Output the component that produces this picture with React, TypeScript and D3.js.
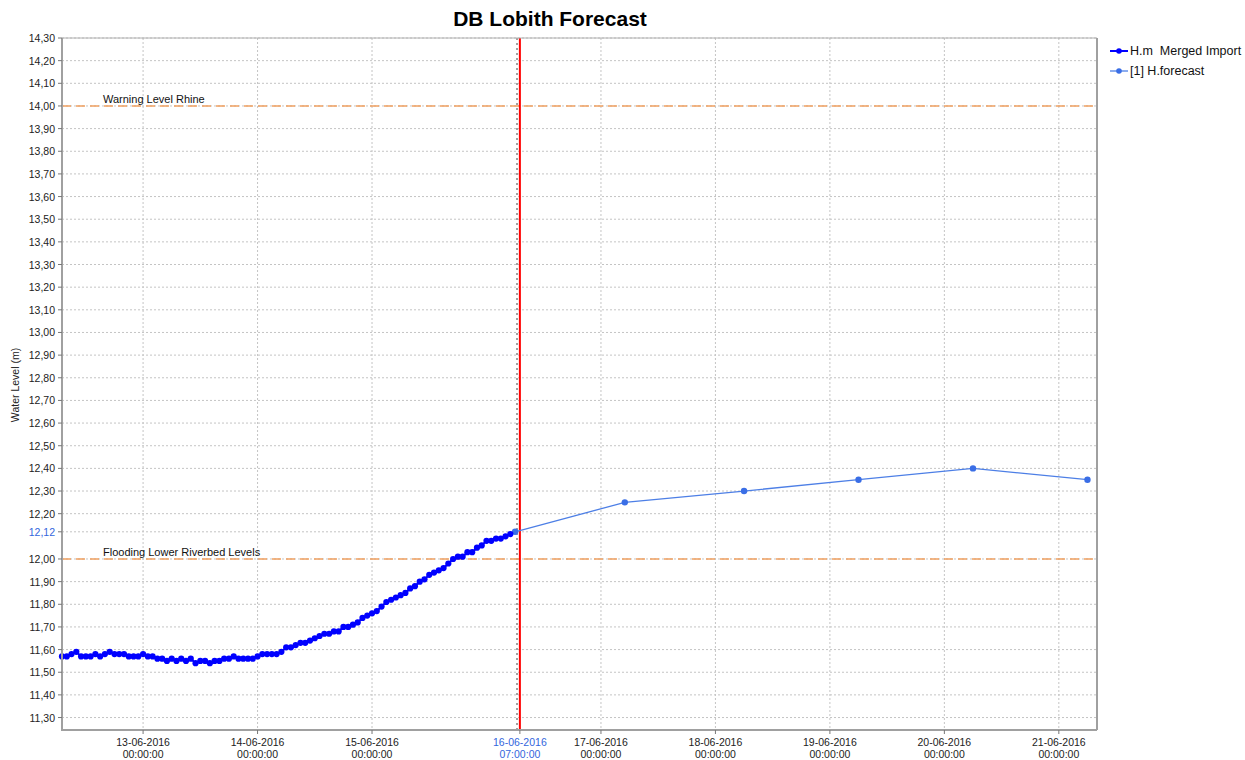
import * as d3 from 'd3'

// hourly observations, 12-06-2016 07:00 .. 16-06-2016 05:00
const obsStart = Date.UTC(2016, 5, 12, 7)
const observed = [
  11.57, 11.57, 11.58, 11.59, 11.57, 11.57, 11.57, 11.58, 11.57, 11.58,
  11.59, 11.58, 11.58, 11.58, 11.57, 11.57, 11.57, 11.58, 11.57, 11.57,
  11.56, 11.56, 11.55, 11.56, 11.55, 11.56, 11.55, 11.56, 11.54, 11.55,
  11.55, 11.54, 11.55, 11.55, 11.56, 11.56, 11.57, 11.56, 11.56, 11.56,
  11.56, 11.57, 11.58, 11.58, 11.58, 11.58, 11.59, 11.61, 11.61, 11.62,
  11.63, 11.63, 11.64, 11.65, 11.66, 11.67, 11.67, 11.68, 11.68, 11.70,
  11.70, 11.71, 11.72, 11.74, 11.75, 11.76, 11.77, 11.79, 11.81, 11.82,
  11.83, 11.84, 11.85, 11.87, 11.88, 11.90, 11.91, 11.93, 11.94, 11.95,
  11.96, 11.98, 12.00, 12.01, 12.01, 12.03, 12.03, 12.05, 12.06, 12.08,
  12.08, 12.09, 12.09, 12.10, 12.11,
]

const forecastTimes = [
  Date.UTC(2016, 5, 16, 6), Date.UTC(2016, 5, 17, 5), Date.UTC(2016, 5, 18, 6),
  Date.UTC(2016, 5, 19, 6), Date.UTC(2016, 5, 20, 6), Date.UTC(2016, 5, 21, 6),
]
const forecastValues = [12.12, 12.25, 12.30, 12.35, 12.40, 12.35]

const t0 = Date.UTC(2016, 5, 16, 7)
const dayTicks = [13, 14, 15, 17, 18, 19, 20, 21].map(d => Date.UTC(2016, 5, d))
const yTicks = [
  11.3, 11.4, 11.5, 11.6, 11.7, 11.8, 11.9, 12.0, 12.12, 12.2, 12.3, 12.4, 12.5,
  12.6, 12.7, 12.8, 12.9, 13.0, 13.1, 13.2, 13.3, 13.4, 13.5, 13.6, 13.7, 13.8,
  13.9, 14.0, 14.1, 14.2, 14.3,
]
const thresholds = [
  { value: 14.0, label: 'Warning Level Rhine' },
  { value: 12.0, label: 'Flooding Lower Riverbed Levels' },
]

const W = 1245
const H = 760
const plot = { left: 62, right: 1097, top: 38, bottom: 730 }
const font = '"Liberation Sans", Arial, sans-serif'

export default function App() {
  const x = d3.scaleUtc()
    .domain([new Date(Date.UTC(2016, 5, 12, 7)), new Date(Date.UTC(2016, 5, 21, 8))])
    .range([plot.left, plot.right])
  const y = d3.scaleLinear().domain([11.245, 14.3]).range([plot.bottom, plot.top])

  const obs = observed.map((v, i) => ({ t: obsStart + i * 3600000, v }))
  const fc = forecastValues.map((v, i) => ({ t: forecastTimes[i], v }))

  const line = d3.line<{ t: number; v: number }>()
    .x(d => x(new Date(d.t)))
    .y(d => y(d.v))

  const fmtDate = d3.utcFormat('%d-%m-%Y')
  const fmtTime = d3.utcFormat('%H:%M:%S')
  const fmtY = (v: number) => v.toFixed(2).replace('.', ',')

  const xT0 = x(new Date(t0))

  return (
    <svg width={W} height={H} style={{ position: 'absolute', left: 0, top: 0, background: '#fff' }}
      fontFamily={font}>
      <rect x={0} y={0} width={W} height={H} fill="#fff" />
      <text x={550} y={26} textAnchor="middle" fontSize={21} fontWeight="bold" fill="#000">
        DB Lobith Forecast
      </text>

      {/* grid */}
      {yTicks.map(v => (
        <line key={'gy' + v} x1={plot.left} x2={plot.right} y1={y(v)} y2={y(v)}
          stroke="#c4c4c4" strokeDasharray="2,2" />
      ))}
      {dayTicks.map(t => (
        <line key={'gx' + t} x1={x(new Date(t))} x2={x(new Date(t))} y1={plot.top} y2={plot.bottom}
          stroke="#c4c4c4" strokeDasharray="2,2" />
      ))}
      <line x1={Math.round(xT0) - 3} x2={Math.round(xT0) - 3} y1={plot.top} y2={plot.bottom}
        stroke="#444" strokeDasharray="2,3" />

      {/* thresholds */}
      {thresholds.map(th => (
        <g key={th.label}>
          <line x1={plot.left} x2={plot.right} y1={y(th.value)} y2={y(th.value)}
            stroke="#f0a060" strokeWidth={1.5} strokeDasharray="9,5" />
          <text x={103} y={y(th.value) - 3} fontSize={11} fill="#111">{th.label}</text>
        </g>
      ))}

      {/* current time */}
      <line x1={xT0} x2={xT0} y1={plot.top} y2={plot.bottom} stroke="#ff0000" strokeWidth={2} />

      {/* forecast */}
      <path d={line(fc) ?? ''} fill="none" stroke="#4d7fe6" strokeWidth={1.3} />
      {fc.map(d => (
        <circle key={'f' + d.t} cx={x(new Date(d.t))} cy={y(d.v)} r={3.2} fill="#3a6ee6" />
      ))}

      {/* observed */}
      <path d={line(obs) ?? ''} fill="none" stroke="#0000ff" strokeWidth={2} />
      {obs.map(d => (
        <circle key={'o' + d.t} cx={x(new Date(d.t))} cy={y(d.v)} r={3.1} fill="#0000ff" />
      ))}

      {/* frame */}
      <line x1={plot.left} x2={plot.right} y1={plot.top} y2={plot.top} stroke="#b0b0b0" />
      <line x1={plot.right} x2={plot.right} y1={plot.top} y2={plot.bottom} stroke="#a0a0a0" strokeWidth={2} />
      <line x1={plot.left} x2={plot.left} y1={plot.top} y2={plot.bottom + 1} stroke="#a0a0a0" strokeWidth={2} />
      <line x1={plot.left} x2={plot.right} y1={plot.bottom} y2={plot.bottom} stroke="#a0a0a0" strokeWidth={2} />

      {/* y axis */}
      {yTicks.map(v => (
        <g key={'ty' + v}>
          <line x1={plot.left - 4} x2={plot.left} y1={y(v)} y2={y(v)} stroke="#777" />
          <text x={55} y={y(v) + 4} textAnchor="end" fontSize={10.5}
            fill={v === 12.12 ? '#3366dd' : '#222'}>{fmtY(v)}</text>
        </g>
      ))}
      <text transform={`translate(19,${385}) rotate(-90)`} textAnchor="middle" fontSize={10.5} fill="#222">
        Water Level (m)
      </text>

      {/* x axis */}
      {[...dayTicks, t0].map(t => {
        const xx = x(new Date(t))
        const c = t === t0 ? '#3366dd' : '#222'
        return (
          <g key={'tx' + t}>
            <line x1={xx} x2={xx} y1={plot.bottom} y2={plot.bottom + 4} stroke="#777" />
            <text x={xx} y={746} textAnchor="middle" fontSize={10.5} fill={c}>{fmtDate(new Date(t))}</text>
            <text x={xx} y={758} textAnchor="middle" fontSize={10.5} fill={c}>{fmtTime(new Date(t))}</text>
          </g>
        )
      })}

      {/* legend */}
      <g>
        <line x1={1110} x2={1128} y1={51} y2={51} stroke="#0000ff" strokeWidth={2} />
        <circle cx={1119} cy={51} r={2.8} fill="#0000ff" />
        <text x={1130} y={55} fontSize={12.5} fill="#111" style={{ whiteSpace: 'pre' }}>{'H.m  Merged Import'}</text>
        <line x1={1110} x2={1128} y1={71} y2={71} stroke="#4d7fe6" strokeWidth={1.3} />
        <circle cx={1119} cy={71} r={2.8} fill="#3a6ee6" />
        <text x={1130} y={75} fontSize={12.5} fill="#111">[1] H.forecast</text>
      </g>
    </svg>
  )
}
